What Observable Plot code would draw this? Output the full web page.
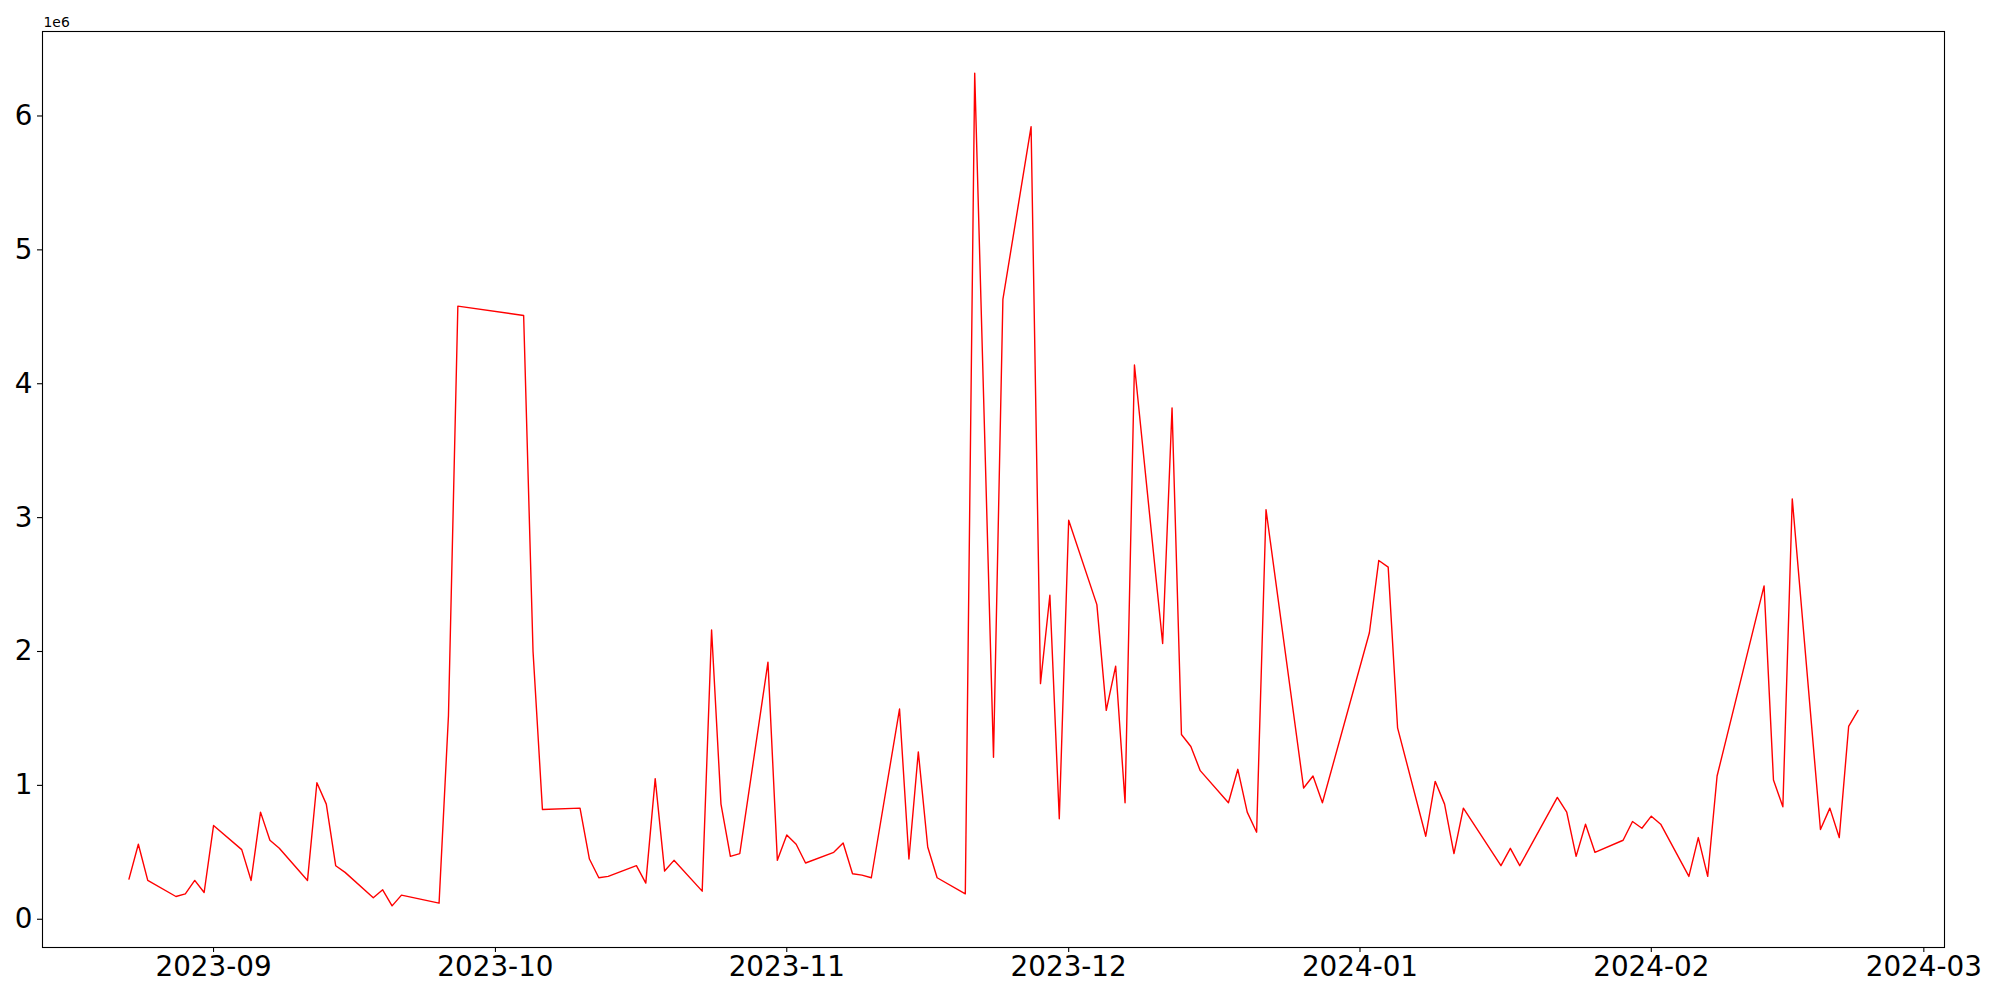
<!DOCTYPE html>
<html>
<head>
<meta charset="utf-8">
<script src="https://cdn.jsdelivr.net/npm/d3@7"></script>
<script src="https://cdn.jsdelivr.net/npm/@observablehq/plot@0.6"></script>
<style>
  html, body { margin: 0; padding: 0; background: #fff; }
  #chart svg { display: block; }
</style>
</head>
<body>
<div id="chart"></div>
<script>
const dates = [
  "2023-08-23","2023-08-24","2023-08-25","2023-08-28","2023-08-29","2023-08-30","2023-08-31",
  "2023-09-01","2023-09-04","2023-09-05","2023-09-06","2023-09-07","2023-09-08",
  "2023-09-11","2023-09-12","2023-09-13","2023-09-14","2023-09-15",
  "2023-09-18","2023-09-19","2023-09-20","2023-09-21",
  "2023-09-25","2023-09-26","2023-09-27",
  "2023-10-04","2023-10-05","2023-10-06",
  "2023-10-10","2023-10-11","2023-10-12","2023-10-13",
  "2023-10-16","2023-10-17","2023-10-18","2023-10-19","2023-10-20",
  "2023-10-23","2023-10-24","2023-10-25","2023-10-26","2023-10-27",
  "2023-10-30","2023-10-31","2023-11-01","2023-11-02","2023-11-03",
  "2023-11-06","2023-11-07","2023-11-08","2023-11-09","2023-11-10",
  "2023-11-13","2023-11-14","2023-11-15","2023-11-16","2023-11-17",
  "2023-11-20","2023-11-21","2023-11-23","2023-11-24",
  "2023-11-27","2023-11-28","2023-11-29","2023-11-30","2023-12-01",
  "2023-12-04","2023-12-05","2023-12-06","2023-12-07","2023-12-08",
  "2023-12-11","2023-12-12","2023-12-13","2023-12-14","2023-12-15",
  "2023-12-18","2023-12-19","2023-12-20","2023-12-21","2023-12-22",
  "2023-12-26","2023-12-27","2023-12-28",
  "2024-01-02","2024-01-03","2024-01-04","2024-01-05",
  "2024-01-08","2024-01-09","2024-01-10","2024-01-11","2024-01-12",
  "2024-01-16","2024-01-17","2024-01-18",
  "2024-01-22","2024-01-23","2024-01-24","2024-01-25","2024-01-26",
  "2024-01-29","2024-01-30","2024-01-31","2024-02-01","2024-02-02",
  "2024-02-05","2024-02-06","2024-02-07","2024-02-08",
  "2024-02-13","2024-02-14","2024-02-15","2024-02-16",
  "2024-02-19","2024-02-20","2024-02-21","2024-02-22","2024-02-23"
];
const values = [
  300000,560000,290000,170000,190000,290000,200000,
  700000,520000,290000,800000,590000,530000,
  290000,1020000,860000,400000,350000,
  160000,220000,100000,180000,
  120000,1520000,4580000,
  4510000,2000000,820000,
  830000,450000,310000,320000,
  400000,270000,1050000,360000,440000,
  210000,2160000,860000,470000,490000,
  1920000,440000,630000,560000,420000,
  500000,570000,340000,330000,310000,
  1570000,450000,1250000,540000,310000,
  190000,6320000,1210000,4630000,
  5920000,1760000,2420000,750000,2980000,
  2350000,1560000,1890000,870000,4140000,
  2060000,3820000,1380000,1290000,1110000,
  870000,1120000,800000,650000,3060000,
  980000,1070000,870000,
  2140000,2680000,2630000,1430000,
  620000,1030000,860000,490000,830000,
  400000,530000,400000,
  910000,800000,470000,710000,500000,
  590000,730000,680000,770000,710000,
  320000,610000,320000,1070000,
  2490000,1040000,840000,3140000,
  670000,830000,610000,1440000,1560000
];
const xTickLabels = ["2023-09","2023-10","2023-11","2023-12","2024-01","2024-02","2024-03"];
const yTickValues = [0, 1e6, 2e6, 3e6, 4e6, 5e6, 6e6];
const offsetLabel = "1e6";

const data = dates.map((d, i) => ({date: new Date(d + "T00:00:00Z"), value: values[i]}));

// matplotlib-like 5% autoscale margins
const t0 = +data[0].date, t1 = +data[data.length - 1].date;
const tPad = (t1 - t0) * 0.05;
const vMin = d3.min(values), vMax = d3.max(values);
const vPad = (vMax - vMin) * 0.05;

const xTicks = xTickLabels.map(s => new Date(s + "-01T00:00:00Z"));

const chart = Plot.plot({
  width: 2000,
  height: 1000,
  marginLeft: 42,
  marginRight: 56,
  marginTop: 31,
  marginBottom: 53,
  style: {fontFamily: "'DejaVu Sans', sans-serif", fontSize: "27.8px", color: "#000", background: "#fff"},
  x: {type: "utc", domain: [new Date(t0 - tPad), new Date(t1 + tPad)]},
  y: {domain: [vMin - vPad, vMax + vPad]},
  marks: [
    Plot.line(data, {x: "date", y: "value", stroke: "red", strokeWidth: 1.4}),
    Plot.frame({stroke: "#000", strokeWidth: 1.1}),
    Plot.axisX({ticks: xTicks, tickFormat: d3.utcFormat("%Y-%m"), tickSize: 5, tickPadding: 4, label: null, fontSize: 27.8, stroke: "#000", strokeWidth: 1.1}),
    Plot.axisY({ticks: yTickValues, tickFormat: d => String(d / 1e6), tickSize: 5, tickPadding: 5, label: null, fontSize: 27.8, stroke: "#000", strokeWidth: 1.1}),
    Plot.text([offsetLabel], {frameAnchor: "top-left", text: d => d, textAnchor: "start", lineAnchor: "bottom", dy: -5, dx: 1, fontSize: 13.9, fill: "#000"})
  ]
});
document.getElementById("chart").appendChild(chart);
</script>
</body>
</html>
